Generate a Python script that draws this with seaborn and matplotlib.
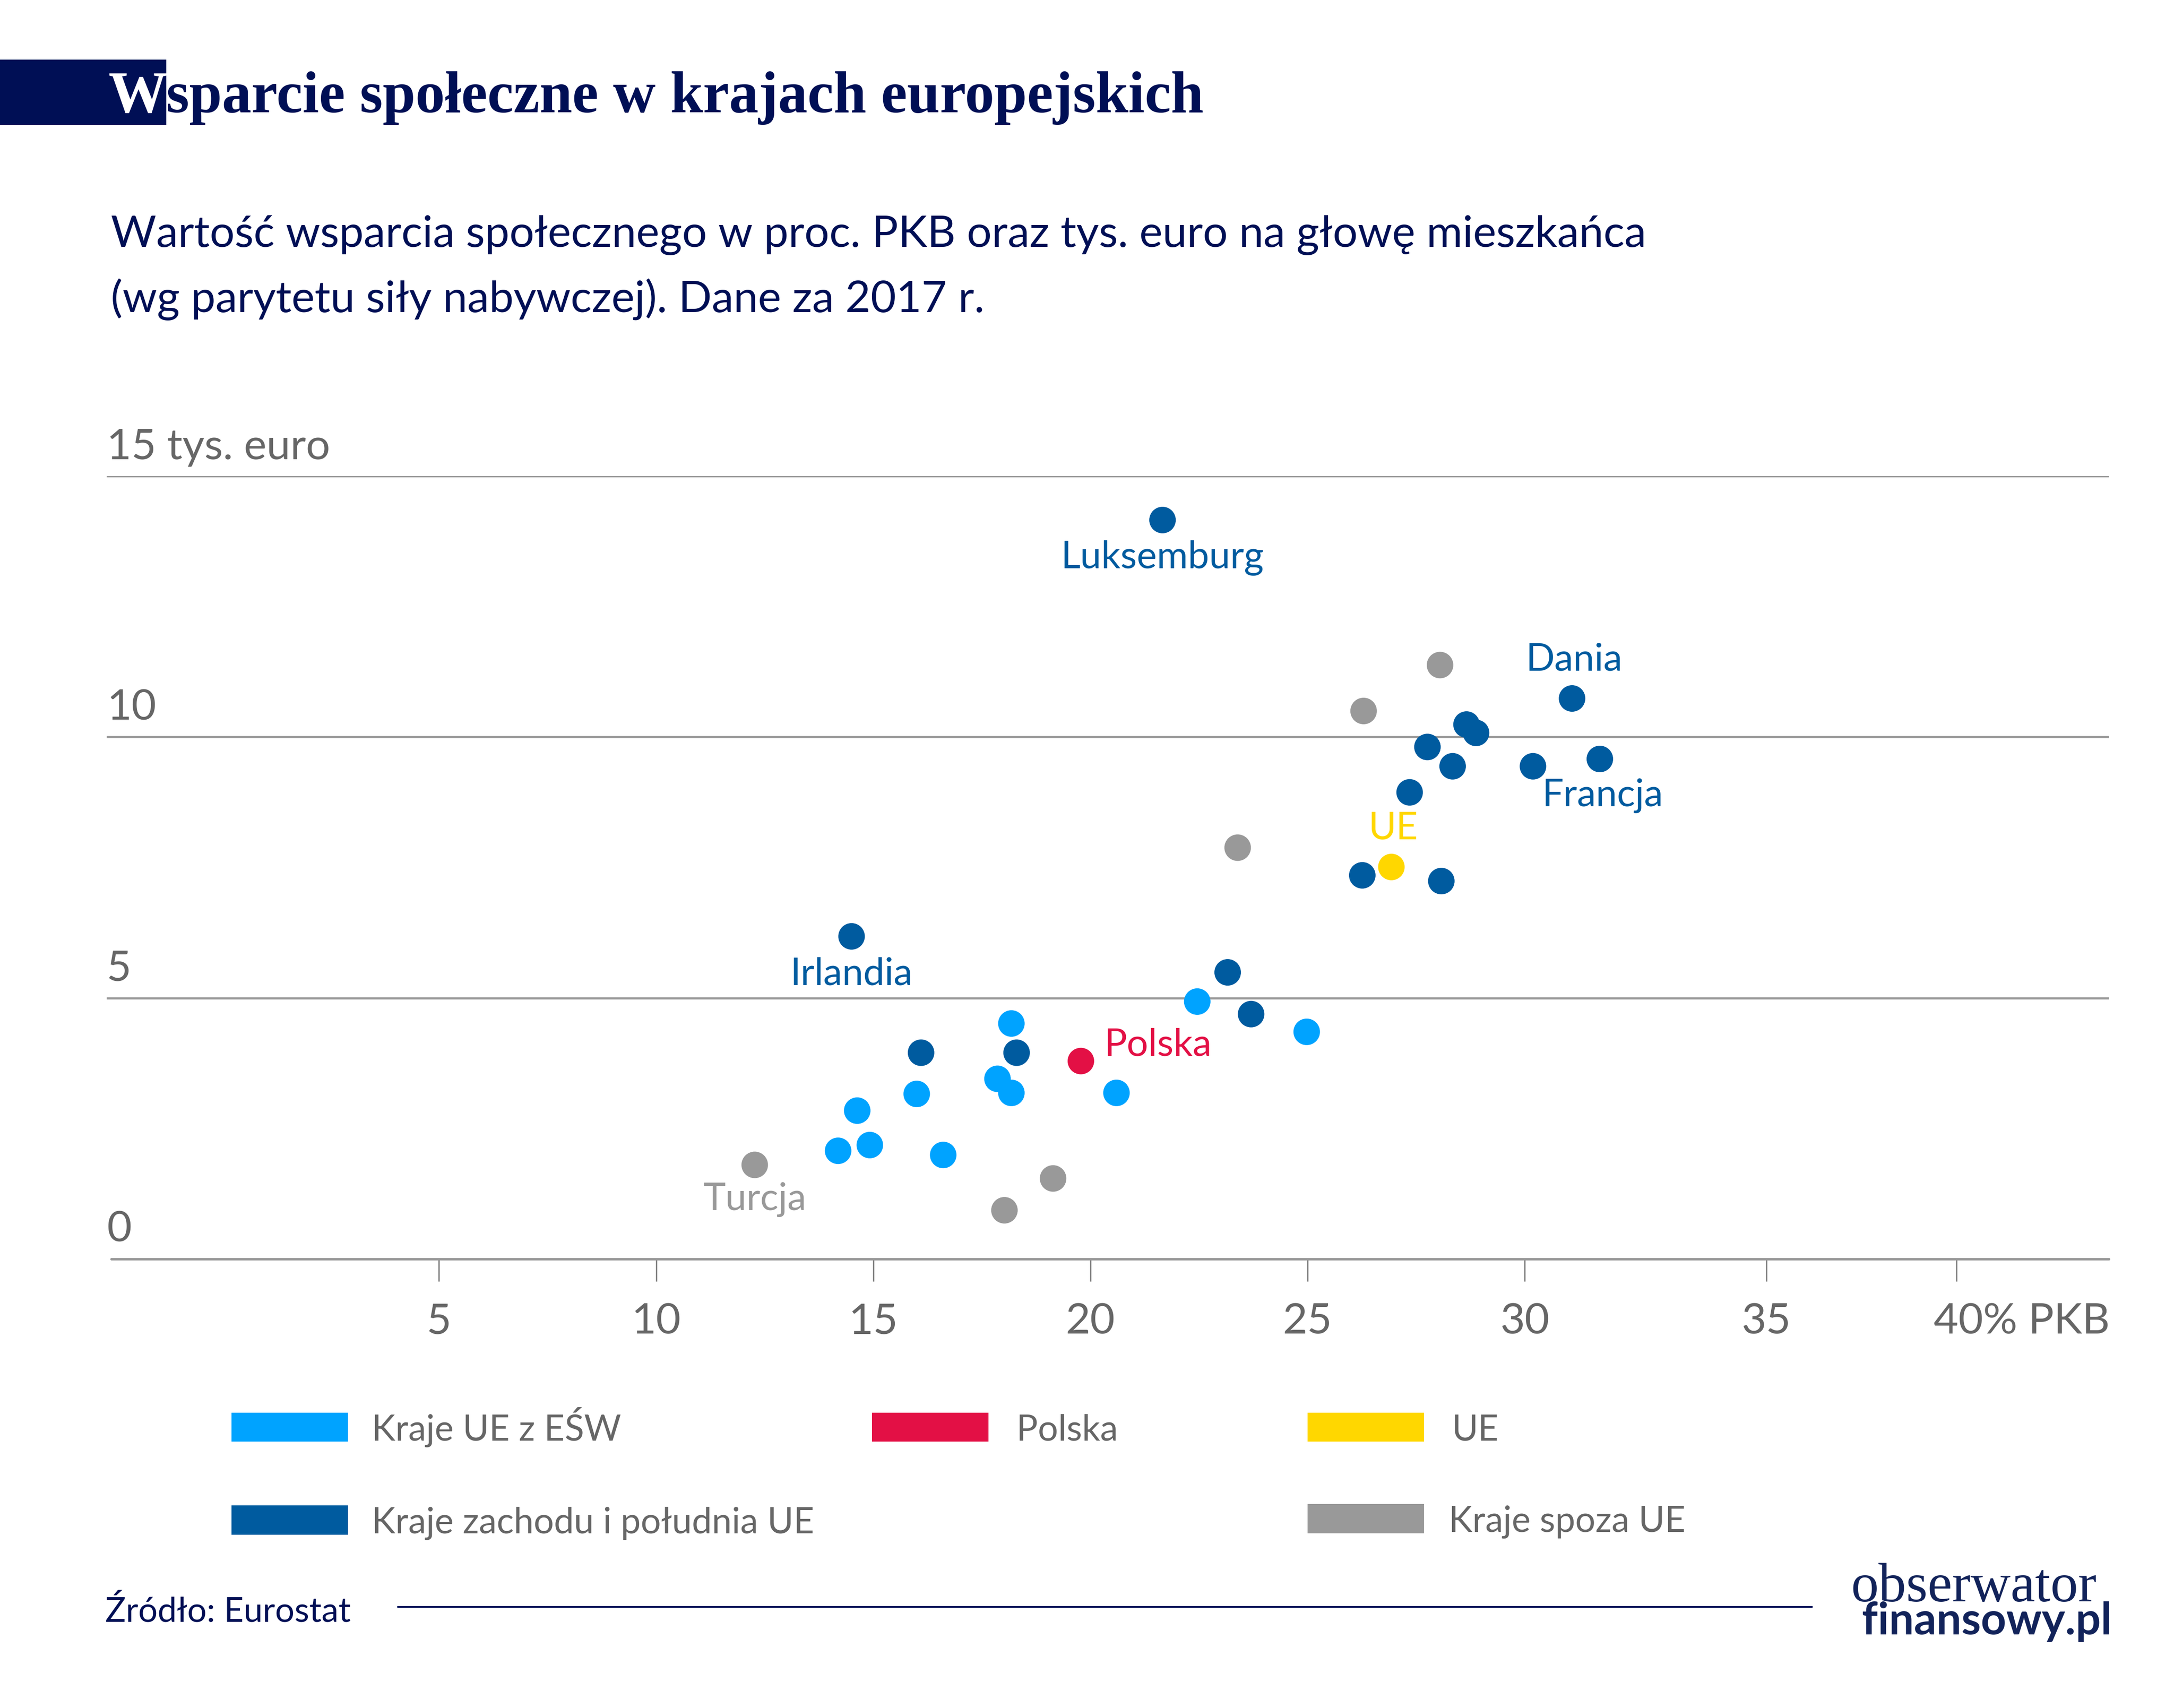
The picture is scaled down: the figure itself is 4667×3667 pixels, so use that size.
import matplotlib
matplotlib.use('Agg')
import matplotlib.pyplot as plt
from matplotlib.patches import Rectangle
from matplotlib.transforms import ScaledTranslation
import pandas as pd
import seaborn as sns

# values: % of GDP, thousand euro per head
west_x = [21.66, 31.09, 28.88, 28.66, 27.76, 28.34, 30.19, 31.73, 27.35, 26.26, 28.08, 14.50, 23.16, 23.70, 16.10, 18.30]
west_y = [14.16, 10.74, 10.08, 10.24, 9.81, 9.44, 9.44, 9.58, 8.94, 7.35, 7.24, 6.18, 5.49, 4.69, 3.95, 3.95]
east_x = [22.46, 24.98, 18.18, 17.86, 18.18, 20.60, 16.00, 14.63, 14.19, 14.92, 16.61]
east_y = [4.93, 4.35, 4.51, 3.45, 3.18, 3.18, 3.16, 2.84, 2.07, 2.18, 1.99]
poland_x = [19.78]
poland_y = [3.79]
eu_x = [26.93]
eu_y = [7.51]
other_x = [28.05, 26.29, 23.39, 12.27, 19.14, 18.02]
other_y = [11.38, 10.50, 7.88, 1.80, 1.54, 0.93]

group_names = ['Kraje UE z EŚW', 'Kraje zachodu i południa UE', 'Polska', 'UE', 'Kraje spoza UE']
group_colors = ['#00A3FF', '#005B9F', '#E31045', '#FFD700', '#999999']

y_ticks = [0, 5, 10, 15]
y_labels = ['0', '5', '10', '15 tys. euro']
# the 35 tick sits off the regular grid in the original
x_ticks = [5, 10, 15, 20, 25, 30, 35.56, 39.94]
x_labels = ['5', '10', '15', '20', '25', '30', '35', '40% PKB']

SANS = ['Lato', 'Roboto', 'DejaVu Sans']
SERIF = ['Liberation Serif', 'DejaVu Serif']
NAVY = '#000F55'
GREY_TXT = '#666666'
W, H = 4667, 3667
S = W / 1568  # layout below is measured on a 1568 px wide view


def fx(x):
    return x * S / W


def fy(y):
    return 1 - y * S / H


sns.set_theme(style='white')
plt.rcParams['font.family'] = SANS

frames = [
    pd.DataFrame({'x': other_x, 'y': other_y, 'grupa': group_names[4]}),
    pd.DataFrame({'x': west_x, 'y': west_y, 'grupa': group_names[1]}),
    pd.DataFrame({'x': east_x, 'y': east_y, 'grupa': group_names[0]}),
    pd.DataFrame({'x': eu_x, 'y': eu_y, 'grupa': group_names[3]}),
    pd.DataFrame({'x': poland_x, 'y': poland_y, 'grupa': group_names[2]}),
]
df = pd.concat(frames, ignore_index=True)

fig = plt.figure(figsize=(W / 300, H / 300), dpi=300, facecolor='white')
ax = fig.add_axes([fx(77), fy(908), fx(1521) - fx(77), fy(343.5) - fy(908)])
ax.set_facecolor('none')

for y in y_ticks[1:]:
    ax.axhline(y, color='#999999', lw=1.1, zorder=1)
ax.plot([-2.55, 43.45], [0, 0], color='#999999', lw=1.3, zorder=1, clip_on=False)

sns.scatterplot(data=df, x='x', y='y', hue='grupa', palette=dict(zip(group_names, group_colors)),
                s=187, linewidth=0, legend=False, ax=ax, zorder=3, clip_on=False)

ax.set_xlim(-2.65, 43.45)
ax.set_ylim(0, 15)
sns.despine(ax=ax, left=True, bottom=True)
ax.set_xlabel('')
ax.set_ylabel('')
ax.set_yticks([])
ax.set_xticks(x_ticks)
ax.set_xticklabels(x_labels, fontsize=22, color=GREY_TXT)
ax.tick_params(axis='x', bottom=True, length=11.5, width=0.7, color='#808080', pad=11)
last = ax.get_xticklabels()[-1]
last.set_transform(last.get_transform() + ScaledTranslation(47 * S / 300, 0, fig.dpi_scale_trans))

for val, lab in zip(y_ticks, y_labels):
    ax.annotate(lab, (-2.65, val), xytext=(0, 5), textcoords='offset points', fontsize=22,
                color=GREY_TXT, ha='left', va='bottom')

# country labels: name, point, colour, offset in points, alignment
notes = [
    ('Luksemburg', west_x[0], west_y[0], group_colors[1], (0, -10.5), 'center', 'top'),
    ('Dania', west_x[1], west_y[1], group_colors[1], (1, 11), 'center', 'bottom'),
    ('Francja', west_x[7], west_y[7], group_colors[1], (1.5, -10), 'center', 'top'),
    ('Irlandia', west_x[11], west_y[11], group_colors[1], (0, -10.5), 'center', 'top'),
    ('UE', eu_x[0], eu_y[0], group_colors[3], (1, 11), 'center', 'bottom'),
    ('Polska', poland_x[0], poland_y[0], group_colors[2], (12, -0.5), 'left', 'bottom'),
    ('Turcja', other_x[3], other_y[3], group_colors[4], (0, -9), 'center', 'top'),
]
for name, px, py, col, off, ha, va in notes:
    ax.annotate(name, (px, py), xytext=off, textcoords='offset points', fontsize=19.5,
                color=col, ha=ha, va=va)


def put(x, y, s, **kw):
    fig.text(fx(x), fy(y), s, va='baseline', **kw)


def box(x0, y0, x1, y1, col):
    fig.add_artist(Rectangle((fx(x0), fy(y1)), fx(x1) - fx(x0), fy(y0) - fy(y1),
                             transform=fig.transFigure, color=col, lw=0))


# header
box(0, 43, 120, 90, NAVY)
put(78, 81, 'W', fontsize=30.3, family=SERIF, weight='bold', color='white')
put(120, 81, 'sparcie społeczne w krajach europejskich', fontsize=30.3, family=SERIF, weight='bold', color=NAVY)
put(80, 178, 'Wartość wsparcia społecznego w proc. PKB oraz tys. euro na głowę mieszkańca', fontsize=22.6, color=NAVY)
put(80, 225, '(wg parytetu siły nabywczej). Dane za 2017 r.', fontsize=22.6, color=NAVY)

# legend
legend_items = [
    (167, 1019, 268, group_names[0], group_colors[0]),
    (629, 1019, 733, group_names[2], group_colors[2]),
    (943, 1019, 1047, group_names[3], group_colors[3]),
    (167, 1086, 268, group_names[1], group_colors[1]),
    (943, 1085, 1045, group_names[4], group_colors[4]),
]
for x0, y0, xt, name, col in legend_items:
    box(x0, y0, x0 + 84, y0 + 21, col)
    put(xt, y0 + 20, name, fontsize=18.4, color=GREY_TXT)

# footer
put(76, 1170, 'Źródło: Eurostat', fontsize=17.6, color=NAVY)
fig.add_artist(plt.Line2D([fx(287), fx(1307)], [fy(1159)] * 2, color=NAVY, lw=0.9))
put(1335, 1155, 'obserwator', fontsize=28.5, family=SERIF, color='#12235A')
put(1343, 1179, 'finansowy.pl', fontsize=22.8, weight='bold', color='#12235A')

fig.savefig('out.png', dpi=300, facecolor='white')
